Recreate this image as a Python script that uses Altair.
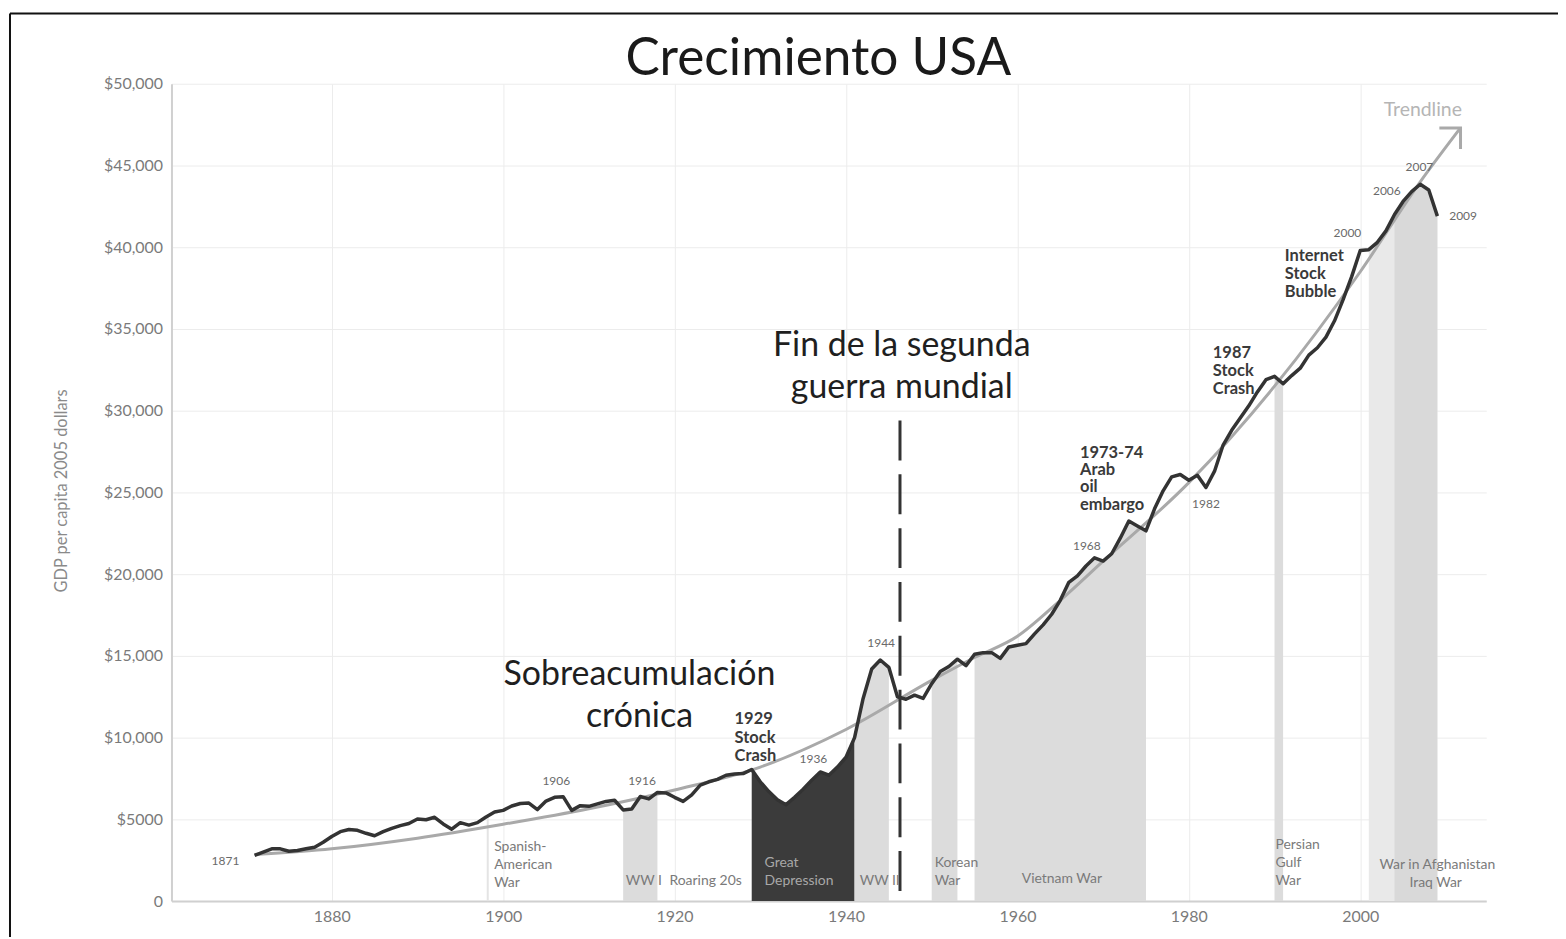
import altair as alt
import pandas as pd

# ---------------- data ----------------
years = list(range(1871, 2010))
gdp = [
    2800, 3000, 3200, 3200, 3050, 3100, 3200, 3300, 3600,            # 1871-1879
    3950, 4250, 4380, 4330, 4150, 4000, 4250, 4450, 4620, 4750,      # 1880-1889
    5020, 4980, 5130, 4720, 4400, 4800, 4650, 4800, 5150, 5450,      # 1890-1899
    5550, 5820, 5970, 6000, 5600, 6120, 6350, 6390, 5550, 5840,      # 1900-1909
    5800, 5950, 6100, 6170, 5580, 5630, 6400, 6250, 6650, 6620,      # 1910-1919
    6350, 6100, 6500, 7100, 7300, 7450, 7700, 7770, 7800, 8050,      # 1920-1929
    7300, 6700, 6200, 5900, 6350, 6850, 7400, 7900, 7700, 8200,      # 1930-1939
    8800, 10000, 12400, 14200, 14750, 14300, 12500, 12350, 12600, 12400,  # 1940-1949
    13300, 14050, 14350, 14800, 14400, 15100, 15200, 15200, 14850, 15550,  # 1950-1959
    15650, 15750, 16350, 16900, 17550, 18400, 19500, 19900, 20500, 21000,  # 1960-1969
    20800, 21250, 22200, 23250, 22950, 22650, 24000, 25100, 25950, 26100,  # 1970-1979
    25750, 26050, 25300, 26300, 27900, 28800, 29550, 30300, 31150, 31900,  # 1980-1989
    32100, 31650, 32150, 32600, 33400, 33850, 34500, 35500, 36800, 38200,  # 1990-1999
    39800, 39850, 40300, 41000, 42000, 42800, 43400, 43850, 43500, 41900,  # 2000-2009
]

trend_years = [1871, 1880, 1890, 1900, 1910, 1920, 1930, 1940, 1950, 1955, 1960,
               1965, 1970, 1980, 1990, 2000, 2007, 2011.7]
trend_values = [2850, 3200, 3850, 4700, 5650, 6800, 8200, 10500, 13500, 14900, 16200,
                18400, 20800, 25600, 31500, 38500, 44000, 47300]

band_names = ["WW I", "Great Depression", "WW II", "Korean War", "Vietnam War",
              "Persian Gulf War", "War in Afghanistan", "Iraq War"]
band_start = [1914, 1929, 1941, 1950, 1955, 1990, 2001, 2004]
band_end = [1918, 1941, 1945, 1953, 1975, 1991, 2009, 2009]
band_colors = ["#dcdcdc", "#3b3b3b", "#dcdcdc", "#dcdcdc", "#dcdcdc",
               "#dcdcdc", "#e9e9e9", "#d9d9d9"]

spanish_year = [1898.2]
spanish_value = [5150]

ww2_end_year = [1946.3]
ww2_end_top = [29400]

title_text = "Crecimiento USA"

big_text = ["Fin de la segunda", "guerra mundial", "Sobreacumulación", "crónica"]
big_year = [1946.5, 1946.5, 1915.9, 1915.9]
big_value = [33960, 31370, 13800, 11250]

bold_text = ["1929", "Stock", "Crash", "1973-74", "Arab", "oil", "embargo",
             "1987", "Stock", "Crash", "Internet", "Stock", "Bubble"]
bold_year = [1927.0] * 3 + [1967.3] * 4 + [1982.8] * 3 + [1991.2] * 3
bold_value = [11130, 9970, 8870, 27410, 26370, 25340, 24240,
              33500, 32410, 31310, 39480, 38380, 37290]

yr_text = ["1871", "1906", "1916", "1936", "1944", "1968", "1982",
           "2000", "2006", "2007", "2009"]
yr_year = [1867.6, 1906.2, 1916.2, 1936.2, 1944.1, 1968.1, 1982.0,
           1998.5, 2003.1, 2006.9, 2012.0]
yr_value = [2470, 7350, 7350, 8690, 15760, 21740, 24300,
            40880, 43450, 44900, 41900]

lbl_text = ["Spanish-", "American", "War", "WW I", "Roaring 20s", "WW II",
            "Korean", "War", "Vietnam War", "Persian", "Gulf", "War"]
lbl_year = [1898.95] * 3 + [1914.3, 1919.4, 1941.6, 1950.35, 1950.35, 1960.5,
                            1990.1, 1990.1, 1990.1]
lbl_value = [3320, 2230, 1130, 1250, 1250, 1250, 2350, 1250, 1370, 3450, 2350, 1250]

gd_text = ["Great", "Depression"]
gd_year = [1930.5, 1930.5]
gd_value = [2350, 1250]

iraq_text = ["War in Afghanistan", "Iraq War"]
iraq_year = [2009.0, 2008.8]
iraq_value = [2230, 1130]

trend_label = ["Trendline"]
trend_label_year = [2007.3]
trend_label_value = [48400]

# ---------------- tables ----------------
df = pd.DataFrame({"year": years, "value": gdp})
df_trend = pd.DataFrame({"year": trend_years, "value": trend_values})
df_tip = df_trend.tail(1)


def tdf(t, x, y):
    return pd.DataFrame({"t": t, "year": x, "value": y})


xscale = alt.Scale(domain=[1861.3, 2014.7], nice=False, zero=False)
yscale = alt.Scale(domain=[0, 50000], nice=False)
xaxis = alt.Axis(values=[1880, 1900, 1920, 1940, 1960, 1980, 2000], format="d",
                 title=None, labelPadding=7)
yaxis = alt.Axis(values=list(range(0, 50001, 5000)),
                 labelExpr="datum.value == 0 ? '0' : (datum.value == 5000 ? '$5000' : '$' + format(datum.value, ','))",
                 title="GDP per capita 2005 dollars", titleX=-110, titleY=408,
                 titleBaseline="middle", labelPadding=9)


def X(field="year"):
    return alt.X(f"{field}:Q", scale=xscale, axis=xaxis)


def Y(field="value"):
    return alt.Y(f"{field}:Q", scale=yscale, axis=yaxis)


layers = []

# Spanish-American war thin marker
layers.append(
    alt.Chart(pd.DataFrame({"year": spanish_year, "value": spanish_value}))
    .mark_rule(color="#e4e4e4", strokeWidth=2)
    .encode(x=X(), y=Y(), y2=alt.datum(0))
)

# shaded bands under the curve
for name, s, e, c in zip(band_names, band_start, band_end, band_colors):
    layers.append(
        alt.Chart(df).mark_area(color=c, opacity=1)
        .encode(x=X(), y=Y())
        .transform_filter(alt.FieldRangePredicate(field="year", range=[s, e]))
    )

# trendline
layers.append(
    alt.Chart(df_trend).mark_line(color="#a9a9a9", strokeWidth=3, interpolate="monotone")
    .encode(x=X(), y=Y())
)
layers.append(
    alt.Chart(df_tip).mark_point(shape="M -1 1 L 0 0 L 1 1", filled=False, color="#a9a9a9",
                                 strokeWidth=3, size=900, angle=45, opacity=1)
    .encode(x=X(), y=Y())
)

# GDP line
layers.append(
    alt.Chart(df).mark_line(color="#333333", strokeWidth=3.5, strokeJoin="round")
    .encode(x=X(), y=Y())
)

# dashed end of WWII
layers.append(
    alt.Chart(pd.DataFrame({"year": ww2_end_year, "value": ww2_end_top}))
    .mark_rule(color="#333333", strokeWidth=3, strokeDash=[40, 14])
    .encode(x=X(), y=Y(), y2=alt.datum(0))
)

# texts
layers.append(
    alt.Chart(tdf(big_text, big_year, big_value))
    .mark_text(font="Lato", fontSize=34, color="#1f1f1f", align="center", baseline="middle")
    .encode(x=X(), y=Y(), text="t:N")
)
layers.append(
    alt.Chart(tdf(bold_text, bold_year, bold_value))
    .mark_text(font="Lato", fontSize=16.5, fontWeight="bold", color="#3a3a3a", align="left",
               baseline="middle")
    .encode(x=X(), y=Y(), text="t:N")
)
layers.append(
    alt.Chart(tdf(yr_text, yr_year, yr_value))
    .mark_text(font="Lato", fontSize=12, color="#6a6a6a", align="center", baseline="middle")
    .encode(x=X(), y=Y(), text="t:N")
)
layers.append(
    alt.Chart(tdf(lbl_text, lbl_year, lbl_value))
    .mark_text(font="Lato", fontSize=14, color="#7a7a7a", align="left", baseline="middle")
    .encode(x=X(), y=Y(), text="t:N")
)
layers.append(
    alt.Chart(tdf(gd_text, gd_year, gd_value))
    .mark_text(font="Lato", fontSize=14, color="#a8a8a8", align="left", baseline="middle")
    .encode(x=X(), y=Y(), text="t:N")
)
layers.append(
    alt.Chart(tdf(iraq_text, iraq_year, iraq_value))
    .mark_text(font="Lato", fontSize=14, color="#7a7a7a", align="center", baseline="middle")
    .encode(x=X(), y=Y(), text="t:N")
)
layers.append(
    alt.Chart(tdf(trend_label, trend_label_year, trend_label_value))
    .mark_text(font="Lato", fontSize=19.5, color="#b5b5b5", align="center", baseline="middle")
    .encode(x=X(), y=Y(), text="t:N")
)

# chart title, placed above the plot area
frame = pd.DataFrame({"a": [0]})
layers.append(
    alt.Chart(frame).mark_text(text=title_text, font="Lato", fontSize=51.5, color="#1a1a1a",
                               align="center", baseline="alphabetic")
    .encode(x=alt.value(649), y=alt.value(-8.5))
)

# picture frame (top and left border of the original image)
layers.append(
    alt.Chart(frame).mark_rule(color="#111111", strokeWidth=2)
    .encode(x=alt.value(-162), x2=alt.value(1394), y=alt.value(-70.5))
)
layers.append(
    alt.Chart(frame).mark_rule(color="#111111", strokeWidth=2)
    .encode(x=alt.value(-162), y=alt.value(-70.5), y2=alt.value(860))
)

chart = (
    alt.layer(*layers)
    .properties(
        width=1319,
        height=820,
        autosize=alt.AutoSizeParams(type="none"),
        padding={"left": 164, "top": 74.5, "right": 72, "bottom": 34},
        background="white",
    )
    .configure_view(stroke=None)
    .configure_axis(grid=True, gridColor="#ececec", gridWidth=1, domainColor="#d0d0d0",
                    domainWidth=2, ticks=False, tickSize=0, labelFont="Lato",
                    labelFontSize=16, labelColor="#7a7a7a", titleFont="Lato",
                    titleFontSize=16.5, titleFontWeight="normal", titleColor="#8a8a8a")
)

chart.save("out.html", embed_options={"renderer": "svg", "actions": False})
